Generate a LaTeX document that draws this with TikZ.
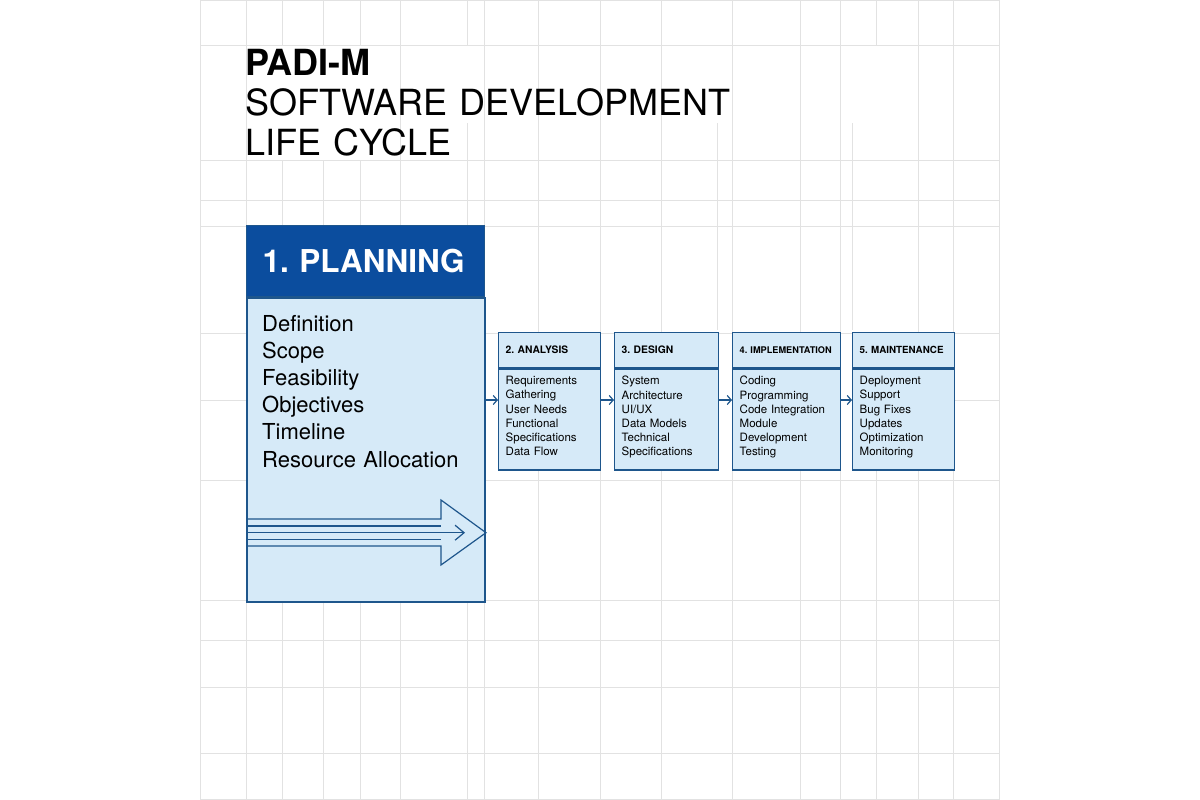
\documentclass[tikz,border=0pt]{standalone}
\usepackage{fontspec}
\setmainfont{TeX Gyre Heros}
\usetikzlibrary{arrows.meta}
\frenchspacing

\definecolor{gridgray}{RGB}{226,226,226}
\definecolor{headblue}{RGB}{11,77,158}
\definecolor{lineblue}{RGB}{30,86,140}
\definecolor{paleblue}{RGB}{214,234,248}

\begin{document}
\begin{tikzpicture}[x = 1pt, y = -1pt,
		gridline/.style = {gridgray, line width = 1pt},
		phasehead/.style = {draw = lineblue, fill = paleblue, line width = 1.4pt, anchor = north west, inner xsep = 7pt, inner ysep = 0pt, minimum height = 35pt, align = left, font = \fontsize{10.3}{12}\selectfont\bfseries},
		phasebody/.style = {draw = lineblue, fill = paleblue, line width = 1.4pt, anchor = north west, inner xsep = 7pt, inner ysep = 0pt, minimum height = 101pt, align = left, font = \fontsize{11.5}{14.2}\selectfont, execute at end node = {\rule[-7pt]{0pt}{7pt}}},
		flow/.style = {lineblue, line width = 1.2pt, -{Straight Barb[length = 4pt, width = 9pt]}},
		bigarrow/.style = {lineblue, line width = 1.2pt, line join = miter}
	]
			\useasboundingbox (0, 0) rectangle (1200, 800);
			% background grid
			\foreach \y in {1, 46, 160, 200, 226, 333, 400, 480, 600, 640, 687, 753, 799}
				\draw[gridline] (200, \y) -- (1000, \y);
			\foreach \x in {200, 246, 400, 484, 538, 600, 661, 732, 800, 840, 918, 953, 999}
				\draw[gridline] (\x, 0) -- (\x, 800);
			\foreach \x in {282, 323, 360}
				\draw[gridline] (\x, 0) -- (\x, 46) (\x, 160) -- (\x, 800);
			\draw[gridline] (467, 0) -- (467, 46) (467, 123) -- (467, 800);
			\draw[gridline] (876, 0) -- (876, 46) (876, 470) -- (876, 800);
			\foreach \x in {717, 852}
				\draw[gridline] (\x, 123) -- (\x, 330);
			% title
			\node[anchor = base west, inner sep = 0pt, text width = 700pt, align = left, font = \fontsize{36}{40}\selectfont] (title) at (245, 75.5) {\textbf{PADI-M}\\SOFTWARE DEVELOPMENT\\LIFE CYCLE};
			% planning
			\node[draw = lineblue, fill = headblue, line width = 1.4pt, anchor = north west, minimum height = 71pt, inner xsep = 16pt, inner ysep = 0pt, text width = 206pt, align = left, text = white, font = \fontsize{31.5}{36}\selectfont\bfseries] (planhead) at (246, 225) {1. PLANNING};
			\node[draw = lineblue, fill = paleblue, line width = 2pt, anchor = north west, minimum width = 238pt, minimum height = 304pt, inner sep = 0pt] (planbody) at (planhead.south west) {};
			\node[anchor = base west, inner sep = 0pt, text width = 220pt, align = left, font = \fontsize{22}{27.2}\selectfont] (plantasks) at (262, 331) {Definition\\Scope\\Feasibility\\Objectives\\Timeline\\Resource Allocation};
			\draw[bigarrow] (planbody.west |- 0, 519) -- (441, 519) -- (441, 500) -- (planbody.east |- 0, 532.7) -- (441, 565) -- (441, 546) -- (planbody.west |- 0, 546);
			\draw[bigarrow] (planbody.west |- 0, 526) -- (441, 526) (planbody.west |- 0, 539.4) -- (441, 539.4);
			\draw[bigarrow, -{Straight Barb[length = 9pt, width = 15pt]}] (planbody.west |- 0, 532.7) -- (465, 532.7);
			% later phases
			\node[phasehead, text width = 88pt] (analysishead) at (498, 332) {2. ANALYSIS};
			\node[phasebody, text width = 88pt] (analysisbody) at (analysishead.south west) {Requirements\\Gathering\\User Needs\\Functional\\Specifications\\Data Flow};
			\node[phasehead, text width = 90pt] (designhead) at (614, 332) {3. DESIGN};
			\node[phasebody, text width = 90pt] (designbody) at (designhead.south west) {System\\Architecture\\UI/UX\\Data Models\\Technical\\Specifications};
			\node[phasehead, text width = 94pt, font = \fontsize{9.2}{11}\selectfont\bfseries] (implhead) at (732, 332) {4. IMPLEMENTATION};
			\node[phasebody, text width = 94pt] (implbody) at (implhead.south west) {Coding\\Programming\\Code Integration\\Module\\Development\\Testing};
			\node[phasehead, text width = 88pt, font = \fontsize{9.8}{11}\selectfont\bfseries] (mainthead) at (852, 332) {\mbox{5. MAINTENANCE}};
			\node[phasebody, text width = 88pt] (maintbody) at (mainthead.south west) {Deployment\\Support\\Bug Fixes\\Updates\\Optimization\\Monitoring};
			% connectors
			\coordinate (lane) at (0, 400);
			\draw[flow] (planbody.east |- lane) -- (analysisbody.west |- lane);
			\draw[flow] (analysisbody.east |- lane) -- (designbody.west |- lane);
			\draw[flow] (designbody.east |- lane) -- (implbody.west |- lane);
			\draw[flow] (implbody.east |- lane) -- (maintbody.west |- lane);
		\end{tikzpicture}
\end{document}
